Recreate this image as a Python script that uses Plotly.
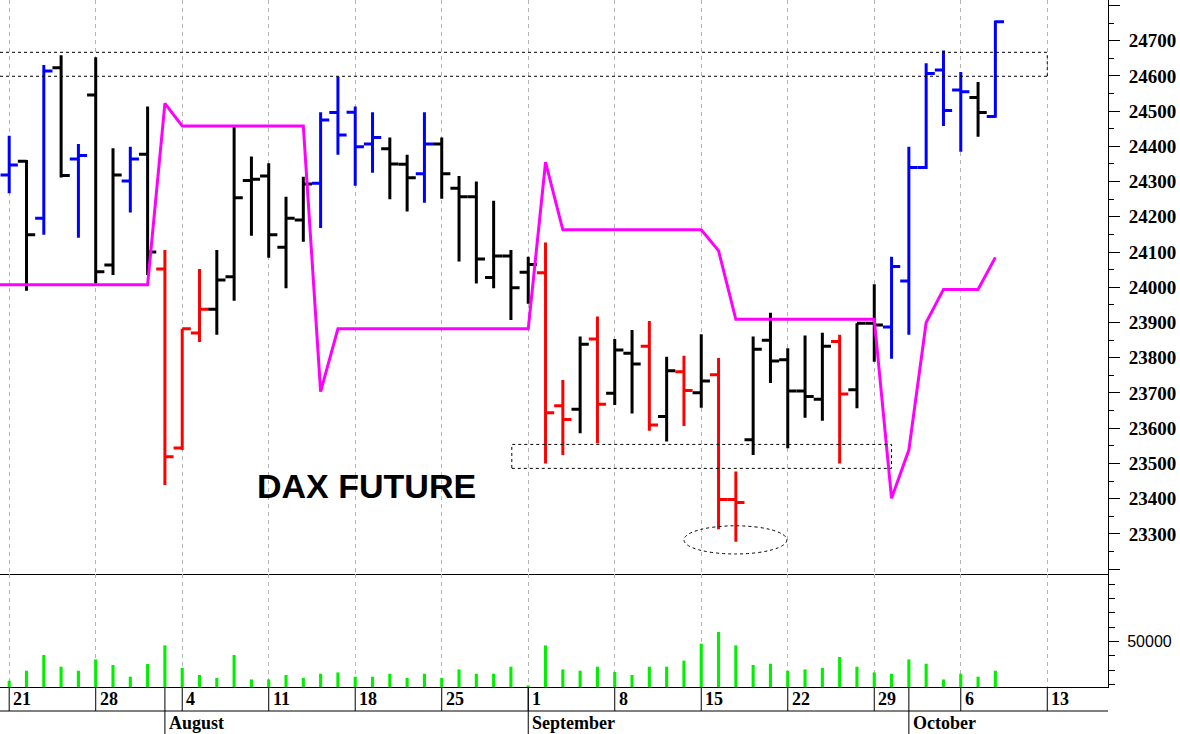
import numpy as np
import plotly.graph_objects as go

# ---------------- data ----------------
dates = [
    "2025-07-21", "2025-07-22", "2025-07-23", "2025-07-24", "2025-07-25",
    "2025-07-28", "2025-07-29", "2025-07-30", "2025-07-31", "2025-08-01",
    "2025-08-04", "2025-08-05", "2025-08-06", "2025-08-07", "2025-08-08",
    "2025-08-11", "2025-08-12", "2025-08-13", "2025-08-14", "2025-08-15",
    "2025-08-18", "2025-08-19", "2025-08-20", "2025-08-21", "2025-08-22",
    "2025-08-25", "2025-08-26", "2025-08-27", "2025-08-28", "2025-08-29",
    "2025-09-01", "2025-09-02", "2025-09-03", "2025-09-04", "2025-09-05",
    "2025-09-08", "2025-09-09", "2025-09-10", "2025-09-11", "2025-09-12",
    "2025-09-15", "2025-09-16", "2025-09-17", "2025-09-18", "2025-09-19",
    "2025-09-22", "2025-09-23", "2025-09-24", "2025-09-25", "2025-09-26",
    "2025-09-29", "2025-09-30", "2025-10-01", "2025-10-02", "2025-10-03",
    "2025-10-06", "2025-10-07", "2025-10-08",
]

open_ = [24319, 24358, 24196, 24623, 24364, 24546, 24063, 24302, 24378, 24052,
         23544, 23870, 23938, 24030, 24303,
         24316, 24114, 24191, 24295, 24496,
         24497, 24407, 24393, 24349, 24322,
         24407, 24281, 24257, 24028, 24089,
         24043, 24041, 23664, 23654, 23853,
         23699, 23813, 23833, 23633, 23760,
         23701, 23752, 23398, 23567, 23850,
         23794, 23706, 23682, 23846, 23709,
         23898, 23887, 24018, 24340, 24617,
         24560, 24539, 24485]

high = [24430, 24361, 24631, 24659, 24407, 24653, 24395, 24399, 24513, 24106,
        23882, 24052, 24106, 24461, 24371,
        24352, 24257, 24314, 24497, 24598,
        24513, 24497, 24425, 24376, 24497,
        24425, 24316, 24300, 24246, 24106,
        24087, 24127, 23737, 23860, 23917,
        23853, 23879, 23904, 23803, 23806,
        23867, 23799, 23477, 23860, 23928,
        23827, 23863, 23871, 23865, 23898,
        24009, 24087, 24399, 24636, 24672,
        24611, 24583, 24757]

low = [24267, 23990, 24149, 24312, 24141, 24011, 24035, 24212, 24035, 23439,
       23538, 23845, 23865, 23962, 24146,
       24084, 23997, 24129, 24168, 24376,
       24288, 24325, 24250, 24215, 24240,
       24251, 24073, 24011, 23997, 23907,
       23953, 23500, 23524, 23586, 23557,
       23666, 23642, 23593, 23562, 23606,
       23658, 23313, 23278, 23524, 23728,
       23543, 23630, 23621, 23500, 23657,
       23789, 23797, 23865, 24336, 24458,
       24385, 24427, 24481]

close = [24347, 24149, 24614, 24317, 24374, 24044, 24319, 24364, 24100, 23519,
         23882, 23938, 24021, 24254, 24307,
         24149, 24196, 24293, 24475, 24432,
         24399, 24425, 24350, 24311, 24407,
         24322, 24257, 24080, 24089, 23999,
         24065, 23644, 23625, 23838, 23668,
         23822, 23782, 23609, 23763, 23707,
         23734, 23398, 23389, 23824, 23791,
         23706, 23690, 23833, 23697, 23898,
         23893, 24059, 24340, 24607, 24502,
         24555, 24496, 24754]

bar_color = ["b", "k", "b", "k", "b", "k", "k", "b", "k", "r",
             "r", "r", "k", "k", "k",
             "k", "k", "k", "b", "b",
             "b", "b", "k", "k", "b",
             "k", "k", "k", "k", "k",
             "k", "r", "r", "k", "r",
             "k", "k", "r", "k", "r",
             "k", "r", "r", "k", "k",
             "k", "k", "k", "r", "k",
             "k", "b", "b", "b", "b",
             "b", "k", "b"]

volume = [22500, 29500, 40500, 32300, 29500, 37400, 33500, 25300, 34200, 47200,
          31400, 26500, 24400, 40500, 23400,
          23400, 26500, 24400, 27400, 28300,
          25300, 25300, 27400, 24400, 27400,
          24400, 30400, 27400, 27400, 32300,
          19200, 47200, 30400, 29500, 32300,
          28600, 26500, 32300, 32300, 36500,
          48400, 56600, 47200, 33500, 34400,
          29500, 30400, 31400, 39100, 32300,
          28300, 27400, 37400, 34400, 23400,
          27400, 25300, 29500]

# magenta indicator line (starts one session before the first bar)
ind_dates = ["2025-07-18"] + dates
ind_values = ([24007] * 10 + [24522] + [24458] * 8 + [23704] + [23882] * 12 +
              [24355] + [24163] * 9 + [24104] + [23909] * 9 +
              [23401, 23538, 23900, 23994, 23994, 23994, 24085])

tick_dates = ["2025-07-21", "2025-07-28", "2025-08-04", "2025-08-11", "2025-08-18",
              "2025-08-25", "2025-09-01", "2025-09-08", "2025-09-15", "2025-09-22",
              "2025-09-29", "2025-10-06", "2025-10-13"]
tick_labels = ["21", "28", "4", "11", "18", "25", "1", "8", "15", "22", "29", "6", "13"]
month_names = {8: "August", 9: "September", 10: "October"}

price_ticks = list(range(23200, 24801, 100))
vol_ticks = [50000]

# annotations data
zone_high = (24599, 24667, "2025-07-18", "2025-10-13")
zone_low = (23486, 23554, 29.05, 51.0)
ellipse = (39.0, 44.95, 23243, 23323)
title_text = "DAX FUTURE"
title_pos = (20.68, 23435)

# ---------------- scales ----------------
start = dates[0]


def xi(d):
    return int(np.busday_count(start, d))


x = [xi(d) for d in dates]
ix = [xi(d) for d in ind_dates]
tickx = [xi(d) for d in tick_dates]

X_RANGE = [-0.532, 63.51]
PLOT_H = 687.0
VOL_SPLIT = (687 - 574) / PLOT_H

colors = {"b": "#0000ff", "k": "#000000", "r": "#ff0000"}

fig = go.Figure()

for key, col in colors.items():
    sel = [i for i, c in enumerate(bar_color) if c == key]
    fig.add_trace(go.Ohlc(
        x=[x[i] for i in sel],
        open=[open_[i] for i in sel],
        high=[high[i] for i in sel],
        low=[low[i] for i in sel],
        close=[close[i] for i in sel],
        increasing=dict(line=dict(color=col, width=3)),
        decreasing=dict(line=dict(color=col, width=3)),
        tickwidth=0.5,
        hoverinfo="skip",
        showlegend=False,
        xaxis="x", yaxis="y",
    ))

fig.add_trace(go.Scatter(
    x=ix, y=ind_values, mode="lines",
    line=dict(color="#ff00ff", width=3),
    hoverinfo="skip", showlegend=False, xaxis="x", yaxis="y",
))

fig.add_trace(go.Bar(
    x=x, y=volume, width=0.18,
    marker=dict(color="#00f000", line=dict(width=0)),
    hoverinfo="skip", showlegend=False, xaxis="x2", yaxis="y2",
))

grid = dict(showgrid=True, gridcolor="#b4b4b4", griddash="4px,4px", gridwidth=1,
            tickmode="array", tickvals=tickx, showticklabels=False, ticks="",
            zeroline=False, range=X_RANGE)

fig.update_layout(
    width=1180, height=734,
    margin=dict(l=0, r=72, t=0, b=47),
    paper_bgcolor="white", plot_bgcolor="white",
    xaxis=dict(domain=[0, 1], anchor="y", showline=True, linecolor="black",
               linewidth=1, rangeslider=dict(visible=False), **grid),
    xaxis2=dict(domain=[0, 1], anchor="y2", matches="x", showline=True,
                linecolor="black", linewidth=1,
                rangeslider=dict(visible=False), **grid),
    yaxis=dict(domain=[VOL_SPLIT, 1], anchor="x", side="right",
               range=[23186.2, 24815.5], showgrid=False, zeroline=False,
               showline=True, linecolor="black", linewidth=1,
               tickmode="array", tickvals=price_ticks,
               ticktext=["" if (v == price_ticks[0] or v == price_ticks[-1]) else str(v)
                         for v in price_ticks],
               ticks="outside", ticklen=11, tickcolor="black",
               ticklabelstandoff=5,
               tickfont=dict(family="Liberation Serif", size=19, color="black",
                             weight="bold"),
               minor=dict(dtick=50, tick0=0, ticks="outside", ticklen=5,
                          tickcolor="black")),
    yaxis2=dict(domain=[0, VOL_SPLIT], anchor="x2", side="right",
                range=[18111, 97133], showgrid=False, zeroline=False,
                showline=True, linecolor="black", linewidth=1,
                tickmode="array", tickvals=vol_ticks,
                ticktext=[str(v) for v in vol_ticks],
                ticks="outside", ticklen=10, tickcolor="black",
                ticklabelstandoff=5,
                tickfont=dict(family="Liberation Sans", size=16, color="black"),
                minor=dict(dtick=10000, tick0=0, ticks="outside", ticklen=6,
                           tickcolor="black")),
)

shapes = []
annotations = []
row1 = -24 / PLOT_H
row2 = -47 / PLOT_H

# date row separators and labels
for tx, lab in zip(tickx, tick_labels):
    shapes.append(dict(type="line", xref="x", yref="paper", x0=tx, x1=tx,
                       y0=row1, y1=0, line=dict(color="black", width=1)))
    annotations.append(dict(x=tx, y=0, xref="x", yref="paper", text=lab,
                            showarrow=False, xanchor="left", yanchor="middle",
                            xshift=2, yshift=-12,
                            font=dict(family="Liberation Serif", size=18,
                                      color="black", weight="bold")))

# month separators and labels (first session of each month)
seen = set()
for d, xv in zip(dates, x):
    m = int(d[5:7])
    if m in month_names and m not in seen:
        seen.add(m)
        shapes.append(dict(type="line", xref="x", yref="paper", x0=xv, x1=xv,
                           y0=row2, y1=0, line=dict(color="black", width=1)))
        annotations.append(dict(x=xv, y=0, xref="x", yref="paper",
                                text=month_names[m], showarrow=False,
                                xanchor="left", yanchor="middle",
                                xshift=2, yshift=-36,
                                font=dict(family="Liberation Serif", size=18,
                                          color="black", weight="bold")))

shapes.append(dict(type="line", xref="paper", yref="paper", x0=0, x1=1,
                   y0=row1, y1=row1, line=dict(color="black", width=1)))

# upper resistance zone (open to the left)
zx1 = xi(zone_high[3])
for yv in zone_high[:2]:
    shapes.append(dict(type="line", xref="x", yref="y", x0=X_RANGE[0], x1=zx1,
                       y0=yv, y1=yv, line=dict(color="black", width=1, dash="3px,3px")))
shapes.append(dict(type="line", xref="x", yref="y", x0=zx1, x1=zx1,
                   y0=zone_high[0], y1=zone_high[1],
                   line=dict(color="black", width=1, dash="3px,3px")))

# lower support zone
shapes.append(dict(type="rect", xref="x", yref="y",
                   x0=zone_low[2], x1=zone_low[3], y0=zone_low[0], y1=zone_low[1],
                   line=dict(color="black", width=1, dash="3px,3px")))

# ellipse around the low
shapes.append(dict(type="circle", xref="x", yref="y",
                   x0=ellipse[0], x1=ellipse[1], y0=ellipse[2], y1=ellipse[3],
                   line=dict(color="black", width=1, dash="3px,3px")))

annotations.append(dict(x=title_pos[0], y=title_pos[1], xref="x", yref="y",
                        text=title_text, showarrow=False,
                        xanchor="center", yanchor="middle",
                        font=dict(family="Liberation Sans", size=34,
                                  color="black", weight="bold")))

fig.update_layout(shapes=shapes, annotations=annotations)

fig.write_html(
    "out.html",
    config={"displayModeBar": False, "staticPlot": True},
    post_script="document.body.style.margin='0';document.body.style.overflow='hidden';",
)
